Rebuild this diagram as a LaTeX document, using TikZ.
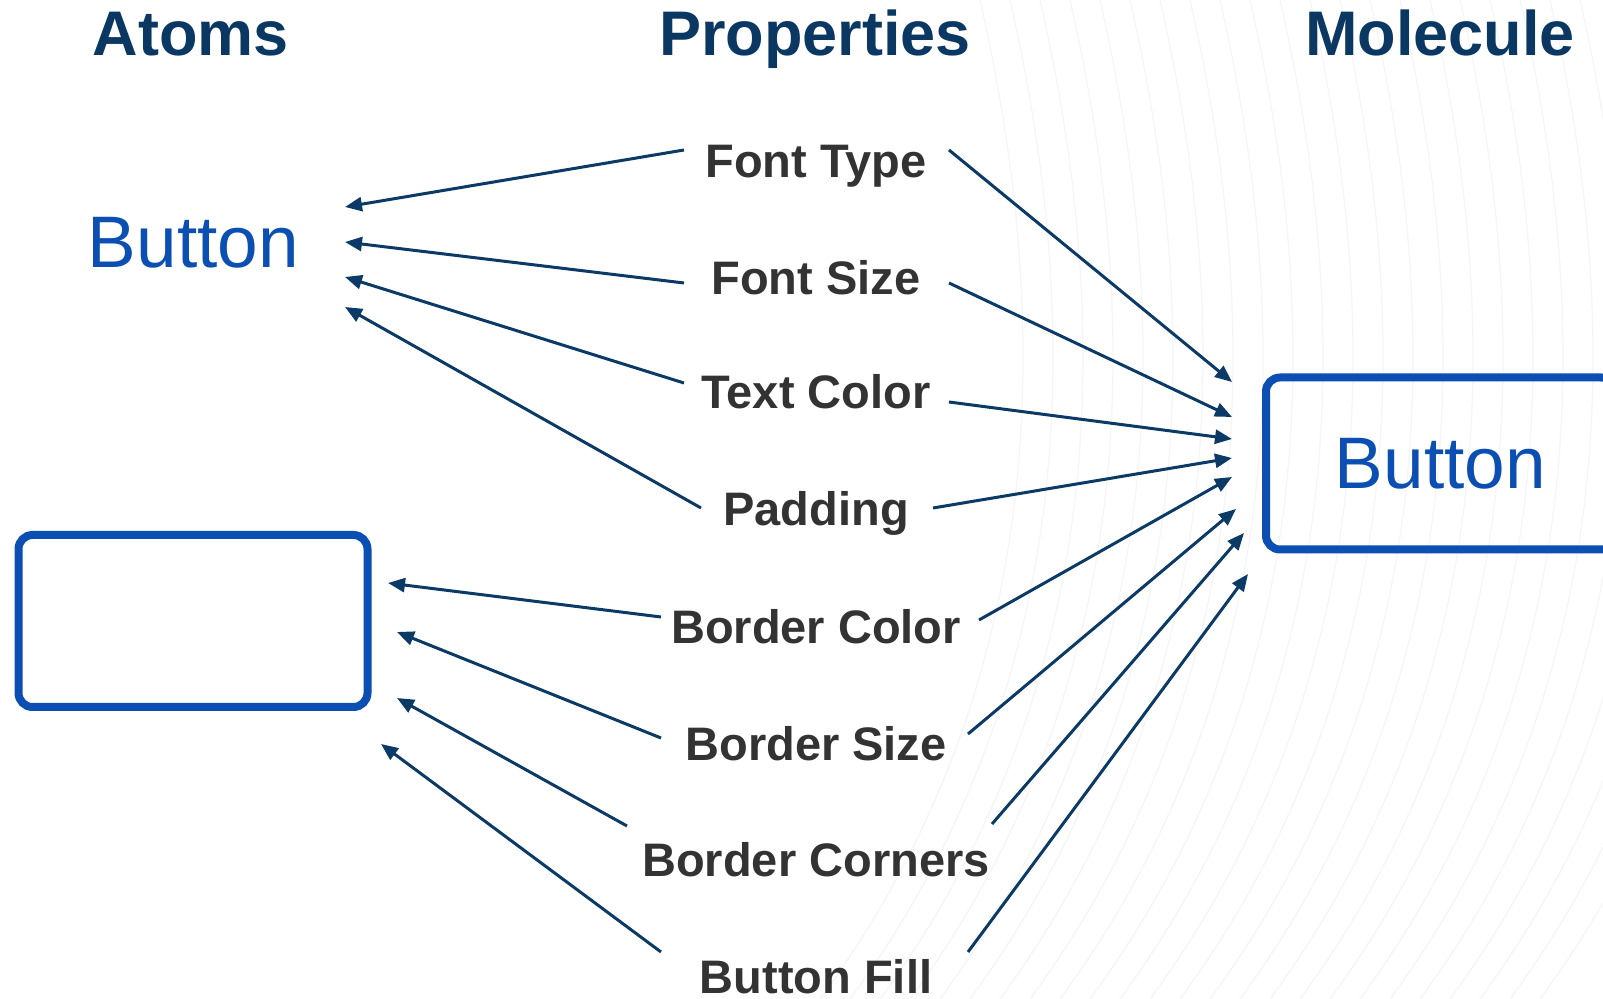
\documentclass[tikz,border=0pt]{standalone}
\usepackage{fontspec}
\setmainfont{Liberation Sans}
\usetikzlibrary{arrows.meta}
\definecolor{navy}{HTML}{0B3A66}
\definecolor{headcol}{HTML}{0B3763}
\definecolor{labelcol}{HTML}{333333}
\definecolor{btnblue}{HTML}{0A4FB1}
\tikzset{
  head/.style={anchor=base, text=headcol, inner sep=0pt,
    font=\fontsize{31.5pt}{36pt}\selectfont\bfseries},
  prop/.style={anchor=base, text=labelcol, inner sep=0pt,
    font=\fontsize{23.5pt}{28pt}\selectfont\bfseries},
  btntext/.style={text=btnblue, font=\fontsize{36.5pt}{40pt}\selectfont},
  btnbox/.style={draw=btnblue, line width=4pt, rounded corners=7pt,
    minimum width=174.5pt, minimum height=86pt, inner sep=0pt},
  arr/.style={draw=navy, line width=1.5pt, -{Triangle[length=8.5pt,width=7pt]}},
  bgline/.style={draw=black!4, line width=0.6pt}
}
\begin{document}
\begin{tikzpicture}[x=0.5pt,y=-0.5pt]
\useasboundingbox (0,0) rectangle (1603,999);
\clip (0,0) rectangle (1603,999);
\fill[white] (0,0) rectangle (1603,999);
% faint background texture
\foreach \k in {0,...,24}
  \draw[bgline] ({980+30*\k},0) .. controls ({1060+30*\k},350) and ({1040+30*\k},700) .. ({820+30*\k},999);
% headers
\node[head] (hatoms) at (191,56) {Atoms};
\node[head] (hprops) at (815,56) {Properties};
\node[head] (hmol) at (1440,56) {Molecule};
% atoms
\node[btntext, anchor=base] (atomtext) at (193.5,268) {Button};
\node[btnbox] (atombox) at (193,621) {};
% molecule
\node[btnbox, btntext] (molbox) at (1440.5,463.5) {Button};
% property labels
\foreach \i/\t/\y in {1/Font Type/178, 2/Font Size/294.5, 3/Text Color/409,
    4/Padding/526, 5/Border Color/644, 6/Border Size/760.5,
    7/Border Corners/877, 8/Button Fill/993.5}
  \node[prop] (p\i) at (816,\y) {\t};
% connector end points
\foreach \i/\x/\y in {1/684/150, 2/684/283, 3/684/383, 4/701/508,
    5/661/617, 6/661/738, 7/627/826, 8/661/952}
  \coordinate (l\i) at (\x,\y);
\foreach \i/\x/\y in {1/345/207, 2/345/242, 3/345/277, 4/345/307,
    5/388/583, 6/397/632, 7/397/698, 8/381/744}
  \coordinate (a\i) at (\x,\y);
\foreach \i/\x/\y in {1/949/150, 2/949/283, 3/949/402, 4/933/508,
    5/979/620, 6/968/734, 7/992/824, 8/968/952}
  \coordinate (r\i) at (\x,\y);
\foreach \i/\x/\y in {1/1232/382, 2/1232/417, 3/1232/439, 4/1232/458,
    5/1232/477, 6/1236/509, 7/1244/533, 8/1248/574}
  \coordinate (m\i) at (\x,\y);
% connectors
\foreach \i in {1,...,8} {
  \draw[arr] (l\i) -- (a\i);
  \draw[arr] (r\i) -- (m\i);
}
\end{tikzpicture}
\end{document}
